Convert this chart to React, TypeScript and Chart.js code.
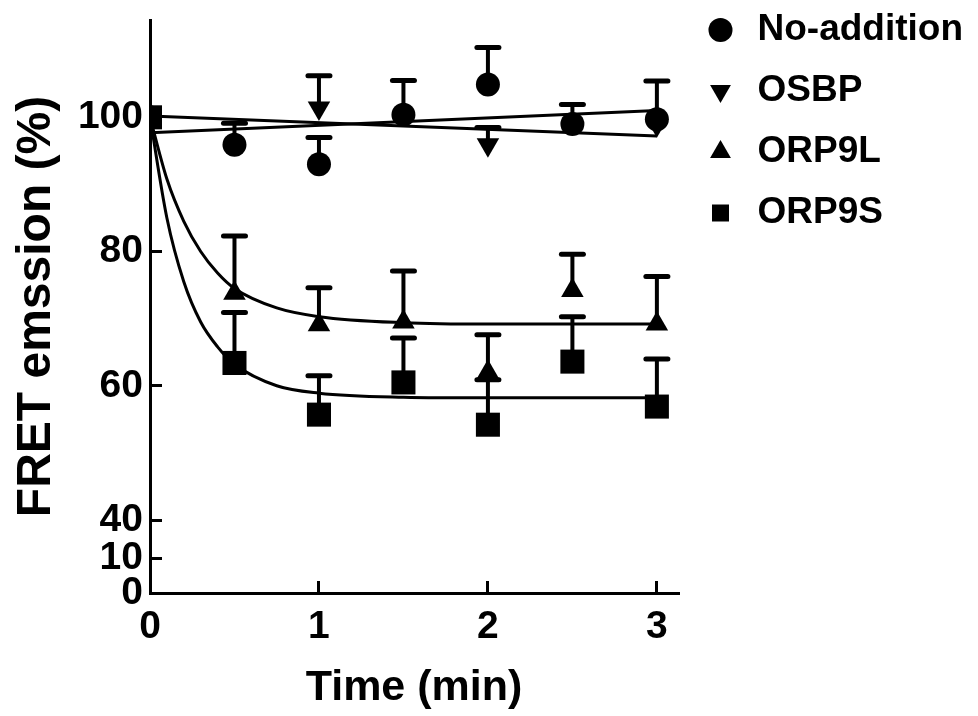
import React, { useEffect, useRef } from 'react';
import { Chart, LinearScale, registerables } from 'chart.js';

// ---- data ----
const TIMES = [0, 0.5, 1, 1.5, 2, 2.5, 3];
const SERIES_LABELS = ['No-addition', 'OSBP', 'ORP9L', 'ORP9S'];

const NO_ADDITION = [100, 95.9, 93.0, 100.4, 104.9, 99.0, 99.7];
const NO_ADDITION_ERR_TOP = [null, 99.1, 97.0, 105.5, 110.4, 101.9, 105.4];
const OSBP = [100, null, 101.4, null, 95.9, null, 98.9];
const OSBP_ERR_TOP = [null, null, 106.2, null, 98.5, null, null];
const ORP9L = [100, 73.8, 69.1, 69.5, 62.0, 74.2, 69.2];
const ORP9L_ERR_TOP = [null, 82.3, 74.6, 77.1, 67.6, 79.6, 76.3];
const ORP9S = [100, 63.4, 55.7, 60.5, 54.2, 63.6, 56.9];
const ORP9S_ERR_TOP = [null, 70.9, 61.5, 67.1, 60.9, 70.3, 64.0];

// fitted curves
const FIT_LINE_T = [0, 3];
const FIT_NO_ADDITION = [97.7, 101.0];
const FIT_OSBP = [100.2, 97.2];
const FIT_CURVE_T = [0, 0.1, 0.2, 0.3, 0.4, 0.5, 0.75, 1, 1.5, 2, 3];
const FIT_ORP9L = [100, 90.8, 84.5, 80.0, 76.8, 74.5, 71.6, 70.3, 69.4, 69.2, 69.2];
const FIT_ORP9S = [100, 85.0, 75.5, 69.5, 65.8, 63.2, 60.0, 58.9, 58.3, 58.2, 58.2];

const X_TICKS = [0, 1, 2, 3];
const Y_TICKS = [0, 10, 40, 60, 80, 100];

// ---- broken y axis configuration ----
const Y_LOW_TOP = 21;      // value at top of lower segment
const Y_HIGH_BOTTOM = 40;  // value at bottom of upper segment
const Y_LOW_SHARE = 73 / 573; // fraction of axis height used by lower segment
const LEGEND_WIDTH = 292;

class BrokenLinearScale extends LinearScale {
  static id = 'brokenLinear';
  static defaults = LinearScale.defaults;
  getPixelForValue(value: any) {
    if (value === null || value === undefined || isNaN(value)) return NaN;
    const min = (this as any).min;
    const max = (this as any).max;
    let dec;
    if (value <= Y_LOW_TOP) dec = ((value - min) / (Y_LOW_TOP - min)) * Y_LOW_SHARE;
    else if (value >= Y_HIGH_BOTTOM)
      dec = Y_LOW_SHARE + ((value - Y_HIGH_BOTTOM) / (max - Y_HIGH_BOTTOM)) * (1 - Y_LOW_SHARE);
    else dec = Y_LOW_SHARE;
    return (this as any).getPixelForDecimal(dec);
  }
  getValueForPixel(pixel: number) {
    const dec = 1 - ((pixel - (this as any)._startPixel) / (this as any)._length);
    const min = (this as any).min;
    const max = (this as any).max;
    if (dec <= Y_LOW_SHARE) return min + (dec / Y_LOW_SHARE) * (Y_LOW_TOP - min);
    return Y_HIGH_BOTTOM + ((dec - Y_LOW_SHARE) / (1 - Y_LOW_SHARE)) * (max - Y_HIGH_BOTTOM);
  }
}

Chart.register(...registerables, BrokenLinearScale);

const FONT = '"Liberation Sans", Arial, Helvetica, sans-serif';
const BLACK = '#000000';

const SERIES = [
  { values: NO_ADDITION, errTop: NO_ADDITION_ERR_TOP },
  { values: OSBP, errTop: OSBP_ERR_TOP },
  { values: ORP9L, errTop: ORP9L_ERR_TOP },
  { values: ORP9S, errTop: ORP9S_ERR_TOP },
];

const toPoints = (xs: number[], ys: (number | null)[]) =>
  xs.map((x, i) => ({ x, y: ys[i] })).filter((p) => p.y !== null && p.y !== undefined);

const errorBarPlugin = {
  id: 'errorBars',
  afterDatasetsDraw(chart: any) {
    const { ctx } = chart;
    const xs = chart.scales.x;
    const ys = chart.scales.y;
    ctx.save();
    ctx.strokeStyle = BLACK;
    SERIES.forEach((s) => {
      s.values.forEach((v, i) => {
        const top = s.errTop[i];
        if (v === null || top === null) return;
        const px = xs.getPixelForValue(TIMES[i]);
        const py = ys.getPixelForValue(v);
        const pt = ys.getPixelForValue(top);
        ctx.lineCap = 'butt';
        ctx.lineWidth = 4;
        ctx.beginPath();
        ctx.moveTo(px, py);
        ctx.lineTo(px, pt);
        ctx.stroke();
        ctx.lineCap = 'round';
        ctx.lineWidth = 5;
        ctx.beginPath();
        ctx.moveTo(px - 11, pt);
        ctx.lineTo(px + 11, pt);
        ctx.stroke();
      });
    });
    ctx.restore();
  },
};

// give the right-hand legend the width it needs (Chart.js caps side boxes at a quarter of the canvas)
const legendWidthPlugin = {
  id: 'legendWidth',
  beforeUpdate(chart: any) {
    const lg = chart.legend;
    if (lg && !lg.__widthPatched) {
      const origFit = lg.fit;
      lg.fit = function () {
        origFit.call(this);
        this.width = LEGEND_WIDTH;
      };
      lg.__widthPatched = true;
    }
  },
};

const markerBase = {
  showLine: false,
  backgroundColor: BLACK,
  borderColor: BLACK,
  pointBackgroundColor: BLACK,
  pointBorderColor: BLACK,
  pointBorderWidth: 0,
};

const fitBase = {
  showLine: true,
  borderColor: BLACK,
  backgroundColor: BLACK,
  borderWidth: 3,
  pointRadius: 0,
  fill: false,
  cubicInterpolationMode: 'monotone' as const,
  order: 5,
};

export default function App() {
  const ref = useRef<HTMLCanvasElement>(null);
  useEffect(() => {
    Chart.defaults.font.family = FONT;
    Chart.defaults.color = BLACK;
    const chart = new Chart(ref.current as HTMLCanvasElement, {
      type: 'line',
      data: {
        datasets: [
          { ...markerBase, label: SERIES_LABELS[0], data: toPoints(TIMES, NO_ADDITION), pointStyle: 'circle', pointRadius: 12, order: 3 },
          { ...markerBase, label: SERIES_LABELS[1], data: toPoints(TIMES, OSBP), pointStyle: 'triangle', pointRotation: 180, pointRadius: 13, order: 2 },
          { ...markerBase, label: SERIES_LABELS[2], data: toPoints(TIMES, ORP9L), pointStyle: 'triangle', pointRadius: 13, order: 1 },
          { ...markerBase, label: SERIES_LABELS[3], data: toPoints(TIMES, ORP9S), pointStyle: 'rect', pointRadius: 17, order: 0 },
          { ...fitBase, label: 'fit No-addition', data: toPoints(FIT_LINE_T, FIT_NO_ADDITION) },
          { ...fitBase, label: 'fit OSBP', data: toPoints(FIT_LINE_T, FIT_OSBP) },
          { ...fitBase, label: 'fit ORP9L', data: toPoints(FIT_CURVE_T, FIT_ORP9L) },
          { ...fitBase, label: 'fit ORP9S', data: toPoints(FIT_CURVE_T, FIT_ORP9S) },
        ] as any,
      },
      options: {
        responsive: false,
        maintainAspectRatio: false,
        animation: false,
        devicePixelRatio: 1,
        layout: { padding: { top: -12.5, right: 8, bottom: 0, left: 8 } },
        plugins: {
          tooltip: { enabled: false },
          legend: {
            position: 'right',
            align: 'start',
            labels: {
              usePointStyle: true,
              boxWidth: 37,
              boxHeight: 17,
              padding: 24,
              color: BLACK,
              font: { family: FONT, size: 37, weight: 'bold' },
              filter: (item: any) => item.datasetIndex < 4,
              sort: (a: any, b: any) => a.datasetIndex - b.datasetIndex,
            },
          },
        },
        scales: {
          x: {
            type: 'linear',
            min: 0,
            max: 3.125,
            afterBuildTicks: (s: any) => {
              s.ticks = X_TICKS.map((v) => ({ value: v }));
            },
            afterFit: (s: any) => {
              s.height = 123;
            },
            border: { display: true, color: BLACK, width: 3 },
            grid: { drawOnChartArea: false, drawTicks: true, tickLength: -12, tickWidth: 3, tickColor: BLACK, lineWidth: 3, color: BLACK },
            ticks: { autoSkip: false, maxRotation: 0, padding: 22.6, color: BLACK, font: { family: FONT, size: 39, weight: 'bold', lineHeight: 1.2 } },
            title: { display: true, text: 'Time (min)', color: BLACK, font: { family: FONT, size: 43, weight: 'bold', lineHeight: 1.2 }, padding: { top: 0, bottom: 2.2 } },
          },
          y: {
            type: 'brokenLinear' as any,
            min: 0,
            max: 114.5,
            afterBuildTicks: (s: any) => {
              s.ticks = Y_TICKS.map((v) => ({ value: v }));
            },
            afterFit: (s: any) => {
              s.width = 142;
              s.paddingTop = 20;
              s.paddingBottom = 20;
            },
            border: { display: true, color: BLACK, width: 3 },
            grid: { drawOnChartArea: false, drawTicks: true, tickLength: -12, tickWidth: 3, tickColor: BLACK, lineWidth: 3, color: BLACK },
            ticks: { autoSkip: false, padding: 19, color: BLACK, font: { family: FONT, size: 39, weight: 'bold', lineHeight: 1.2 } },
            title: { display: true, text: 'FRET emssion (%)', color: BLACK, font: { family: FONT, size: 48, weight: 'bold', lineHeight: 1.2 }, padding: { top: 0, bottom: 0 } },
          },
        },
      } as any,
      plugins: [errorBarPlugin, legendWidthPlugin],
    });
    return () => chart.destroy();
  }, []);
  return (
    <div style={{ position: 'absolute', left: 0, top: 0, width: 978, height: 716, background: '#ffffff' }}>
      <canvas ref={ref} width={978} height={716} style={{ display: 'block', width: 978, height: 716 }} />
    </div>
  );
}
